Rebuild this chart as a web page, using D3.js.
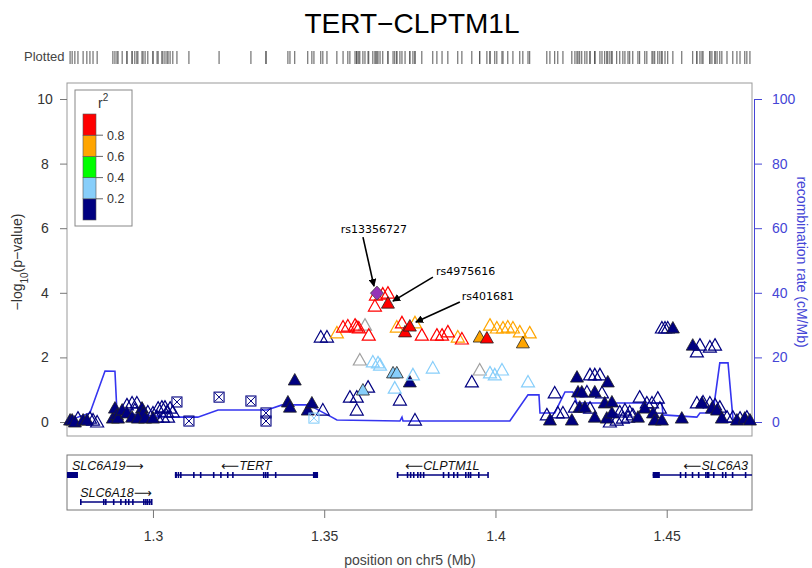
<!DOCTYPE html>
<html>
<head>
<meta charset="utf-8">
<script src="https://cdn.jsdelivr.net/npm/d3@7"></script>
<style>
body { margin: 0; background: #fff; }
svg text { font-family: "Liberation Sans", Arial, Helvetica, sans-serif; }
</style>
</head>
<body>
<div id="chart"></div>
<script>
// ---- data (positions in Mb on chr5) ----
var snpPos = [
  // left cluster
  1.2758,1.2764,1.2772,1.2781,1.2796,1.2807,1.2816,1.2825,1.2837,
  1.2883,1.2889,1.2895,1.2898,1.2910,1.2924,1.2924,1.2939,1.2953,1.2947,1.2968,1.2971,1.2939,1.2956,1.2977,
  1.2985,1.3000,1.3015,1.3026,1.3035,1.3041,1.3050,1.3058,1.3012,1.3029,1.3044,1.3000,
  // TERT region
  1.3070,1.3105,1.3193,1.3286,1.3330,1.3330,1.3394,1.3400,1.3414,1.3452,1.3464,1.3470,1.3496,
  // peak
  1.3490,1.3508,1.3537,1.3555,1.3569,1.3590,1.3595,1.3601,1.3619,1.3630,
  1.3651,1.3671,1.3686,1.3648,1.3686,1.3712,1.3727,1.3736,1.3750,1.3765,
  1.3785,1.3829,1.3844,1.3861,1.3890,1.3902,1.3954,1.3975,1.3984,1.4004,
  1.4022,1.4036,1.4051,1.4071,1.4100,1.4080,
  // lower middle
  1.3604,1.3642,1.3657,1.3663,1.3701,1.3712,1.3817,1.3750,1.3759,1.3706,
  1.3575,1.3595,1.3613,1.3628,1.3721,1.3595,1.3765,1.3954,1.3931,1.3984,
  1.3998,1.4019,1.4095,
  // right cluster
  1.4150,1.4159,1.4173,1.4182,1.4197,1.4223,1.4232,1.4238,1.4241,1.4246,
  1.4252,1.4261,1.4267,1.4276,1.4276,1.4290,1.4290,1.4290,1.4305,1.4311,
  1.4319,1.4325,1.4328,1.4334,1.4340,1.4340,1.4354,1.4363,1.4372,1.4378,
  1.4387,1.4392,1.4401,1.4416,1.4421,1.4436,1.4442,1.4457,1.4460,1.4465,
  1.4474,1.4480,1.4486,1.4486,1.4495,1.4503,1.4518,1.4544,1.4576,1.4588,
  1.4597,1.4626,1.4641,1.4588,1.4603,1.4606,1.4626,1.4632,1.4641,1.4647,
  1.4655,1.4661,1.4676,1.4693,1.4705,1.4714,1.4728,1.4734,1.4743,
  // lead SNP
  1.3654
];
var snpLogP = [
  0.06,0.06,0.00,0.12,0.06,0.06,0.12,0.06,0.00,
  0.12,0.43,0.22,0.12,0.37,0.28,0.53,0.59,0.59,0.37,0.43,0.28,0.15,0.12,0.12,
  0.31,0.28,0.43,0.46,0.46,0.31,0.43,0.31,0.15,0.15,0.15,0.12,
  0.62,0.03,0.77,0.65,0.28,0.03,0.62,0.46,1.30,0.37,0.59,0.12,0.37,
  2.63,2.63,2.76,2.94,2.97,3.00,2.94,2.91,3.00,2.69,
  3.93,3.96,3.99,3.59,3.68,2.94,3.07,2.79,2.97,3.07,
  2.69,2.69,2.69,2.79,2.63,2.57,2.63,2.60,3.00,2.91,
  2.91,2.94,2.91,2.79,2.76,2.45,
  1.92,1.86,1.83,1.76,1.52,1.52,1.67,1.24,1.46,1.05,
  0.77,0.77,0.99,1.08,0.68,0.37,0.06,1.61,1.24,1.52,
  1.46,1.61,1.24,
  0.22,0.06,0.90,0.28,0.28,0.06,0.46,1.39,0.93,0.46,
  0.93,0.46,0.93,1.46,0.43,1.46,0.93,0.15,1.46,0.90,
  0.59,0.12,1.24,0.00,0.62,0.28,0.06,0.31,0.12,0.37,
  0.15,0.31,0.22,0.15,0.77,0.43,0.59,0.59,0.28,0.06,
  0.74,0.43,0.06,2.91,2.91,2.91,2.91,0.12,2.38,2.17,
  2.38,2.32,2.38,0.59,0.59,0.62,0.59,0.43,0.53,0.37,
  0.46,0.12,0.15,0.15,0.06,0.12,0.12,0.15,0.06,
  3.99
];
var N = null;
var snpR2 = [
  .1,.1,.1,.1,.1,.1,.1,.1,.1,
  .1,.1,.1,.1,.1,.1,.1,.1,.1,.1,.1,.1,.1,.1,.1,
  .1,.1,.1,.1,.1,.1,.1,.1,.1,.1,.1,.1,
  .1,.1,.1,.1,.1,.1,.1,.1,.1,.1,.1,.3,.1,
  .1,.1,.7,.9,.9,.9,.9,.9,N,.9,
  .9,.9,.9,.9,.9,.7,.9,.9,.9,.7,
  .9,.9,.9,.9,.7,.9,.7,.9,.7,.7,
  .7,.7,.7,.7,.7,.7,
  N,.3,.3,.3,.3,.3,.3,.1,.3,.3,
  .1,.1,.3,.1,.1,.1,.1,N,.1,.3,
  .3,.3,.3,
  .1,.1,.1,.1,.1,.1,.1,.1,.1,.1,
  .1,.1,.1,.1,.1,.1,.1,.1,.1,.1,
  .1,.1,.1,.1,.1,.1,.1,.1,.1,.1,
  .1,.1,.1,.1,.1,.1,.1,.1,.1,.1,
  .1,.1,.1,.1,.1,.1,.1,.1,.1,.1,
  .1,.1,.1,.1,.1,.1,.1,.1,.1,.1,
  .1,.1,.1,.1,.1,.1,.1,.1,.1,
  1
];
// o = open triangle, f = filled triangle, x = boxed cross, d = index SNP
var snpMarker = [
  "f","f","f","o","f","f","o","o","o",
  "f","f","f","f","f","f","o","o","o","o","f","f","f","f","f",
  "o","o","o","o","o","o","o","o","o","o","o","f",
  "x","x","x","x","x","x","f","f","f","f","f","x","o",
  "o","o","o","o","o","o","o","o","o","o",
  "o","o","o","o","f","o","o","f","f","o",
  "o","o","o","o","o","o","f","f","o","o",
  "o","o","o","o","o","f",
  "o","o","o","o","f","f","o","f","o","o",
  "o","o","f","o","o","o","o","o","o","o",
  "o","o","o",
  "o","f","o","o","o","f","o","f","f","f",
  "f","f","o","o","o","o","f","f","o","o",
  "f","f","f","o","f","f","o","o","o","o",
  "o","o","o","f","o","f","o","o","f","f",
  "o","o","f","o","o","o","f","f","f","o",
  "o","o","o","o","f","o","o","f","o","f",
  "o","f","o","o","f","o","f","o","f",
  "d"
];

var recombPos = [1.2749,1.2816,1.2860,1.2889,1.2895,1.3050,1.3079,1.3131,1.3190,1.3333,
                 1.3377,1.3458,1.3467,1.3522,1.3537,1.3721,1.3727,1.3730,1.4042,1.4095,
                 1.4127,1.4130,1.4173,1.4203,1.4226,1.4238,1.4363,1.4486,1.4489,1.4588,
                 1.4597,1.4635,1.4655,1.4679,1.4694,1.4749];
var recombRate = [0.3,2.8,15.8,15.7,2.8,1.5,1.5,1.5,3.7,3.7,
                  5.3,5.3,4.6,1.5,0.6,0.3,1.5,0.3,0.3,8.4,
                  8.4,2.8,2.8,9.3,9.3,5.9,5.9,5.9,2.2,1.5,
                  2.8,2.8,18.3,18.3,0.3,0.3];

var geneNames  = ["SLC6A19", "TERT", "SLC6A18", "CLPTM1L", "SLC6A3"];
var geneStart  = [1.2540, 1.3064, 1.2787, 1.3712, 1.4459];
var geneEnd    = [1.2781, 1.3482, 1.2997, 1.3978, 1.4990];
var geneStrand = ["+", "-", "+", "-", "-"];
var geneRow    = [0, 0, 1, 0, 0];
var geneExons  = [
  [[1.2745, 1.2781]],
  [[1.3064,1.3070],[1.3072,1.3074],[1.3079,1.3081],[1.3117,1.3119],[1.3137,1.3139],[1.3175,1.3177],
   [1.3196,1.3198],[1.3216,1.3218],[1.3231,1.3233],[1.3321,1.3323],[1.3327,1.3329],[1.3333,1.3335],
   [1.3356,1.3358],[1.3467,1.3482]],
  [[1.2787,1.2789],[1.2854,1.2856],[1.2860,1.2862],[1.2883,1.2885],[1.2904,1.2906],[1.2918,1.2920],
   [1.2927,1.2929],[1.2939,1.2941],[1.2971,1.2973],[1.2977,1.2979],[1.2982,1.2984],[1.2988,1.2990],
   [1.2994,1.2997]],
  [[1.3712,1.3714],[1.3741,1.3743],[1.3750,1.3752],[1.3759,1.3761],[1.3771,1.3773],[1.3779,1.3781],
   [1.3788,1.3790],[1.3846,1.3848],[1.3861,1.3863],[1.3876,1.3878],[1.3887,1.3889],[1.3911,1.3913],
   [1.3919,1.3921],[1.3925,1.3927],[1.3949,1.3951],[1.3976,1.3978]],
  [[1.4459,1.4480],[1.4538,1.4540],[1.4553,1.4555],[1.4573,1.4575],[1.4591,1.4593],[1.4612,1.4614],
   [1.4617,1.4619],[1.4620,1.4622],[1.4635,1.4637],[1.4661,1.4663],[1.4670,1.4672],[1.4690,1.4692],
   [1.4728,1.4730],[1.4760,1.4762]]
];

var annotNames = ["rs13356727", "rs4975616", "rs401681"];
var annotPos   = [1.3654, 1.3686, 1.3750];
var annotLogP  = [3.99, 3.68, 2.97];

var xTicks = [1.3, 1.35, 1.4, 1.45];
var yTicks = [0, 2, 4, 6, 8, 10];
var recombTicks = [0, 20, 40, 60, 80, 100];
var r2Breaks = [0.2, 0.4, 0.6, 0.8];
var r2Colors = ["#000080", "#87CEFA", "#00FF00", "#FFA500", "#FF0000"];

function init() {
    var w = 812, h = 568;
    var left = 67, right = 752, top = 83, bottom = 436;
    var blue = "#4545d6";

    var xScale = d3.scaleLinear().domain([1.2749, 1.4749]).range([left, right]);
    var yScale = d3.scaleLinear().domain([0, 10]).range([422, 99]);
    var rScale = d3.scaleLinear().domain([0, 100]).range([422, 99]);
    var colorScale = d3.scaleThreshold().domain(r2Breaks).range(r2Colors);
    function snpColor(r) { return r == null ? "#A0A0A0" : colorScale(r); }

    var svg = d3.select("#chart").append("svg")
        .attr("width", w).attr("height", h);

    svg.append("defs").append("marker")
        .attr("id", "arrow").attr("viewBox", "0 0 10 10")
        .attr("refX", 9).attr("refY", 5)
        .attr("markerWidth", 5).attr("markerHeight", 5)
        .attr("orient", "auto")
        .append("path").attr("d", "M0,0L10,5L0,10Z").attr("fill", "#000");

    // title
    svg.append("text").attr("x", 412).attr("y", 33)
        .attr("text-anchor", "middle").style("font-size", "28px")
        .text("TERT\u2212CLPTM1L");

    // plotted track
    svg.append("text").attr("x", 24).attr("y", 61)
        .style("font-size", "13px").attr("fill", "#444").text("Plotted");
    svg.append("g").selectAll("line")
        .data(snpPos).enter().append("line")
        .attr("x1", function(d) { return xScale(d); })
        .attr("x2", function(d) { return xScale(d); })
        .attr("y1", 51).attr("y2", 64)
        .attr("stroke", "#555").attr("stroke-width", 1);

    // frame
    svg.append("rect").attr("x", left).attr("y", top)
        .attr("width", right - left).attr("height", bottom - top)
        .attr("fill", "none").attr("stroke", "#999");

    // left axis
    var yAxis = svg.append("g").attr("transform", "translate(" + left + ",0)")
        .call(d3.axisLeft(yScale).tickValues(yTicks).tickSize(7).tickSizeOuter(0));
    yAxis.select(".domain").remove();
    yAxis.selectAll("line").attr("stroke", "#777");
    yAxis.selectAll("text").attr("x", -22).attr("text-anchor", "middle")
        .style("font-size", "14px").attr("fill", "#333");

    var yl = svg.append("text").attr("transform", "translate(22,262) rotate(-90)")
        .attr("text-anchor", "middle").style("font-size", "14px").attr("fill", "#333");
    yl.append("tspan").text("\u2212log");
    yl.append("tspan").attr("baseline-shift", "sub").style("font-size", "10px").text("10");
    yl.append("tspan").text("(p\u2212value)");

    // right axis
    var rAxis = svg.append("g").attr("transform", "translate(754,0)")
        .call(d3.axisRight(rScale).tickValues(recombTicks).tickSize(8).tickSizeOuter(0).tickPadding(10));
    rAxis.select(".domain").attr("stroke", blue);
    rAxis.selectAll("line").attr("stroke", blue);
    rAxis.selectAll("text").attr("fill", blue).style("font-size", "14px");
    svg.append("text").attr("transform", "translate(797,262) rotate(90)")
        .attr("text-anchor", "middle").style("font-size", "14px").attr("fill", blue)
        .text("recombination rate (cM/Mb)");

    // recombination line
    var recomb = d3.range(recombPos.length).map(function(i) { return [recombPos[i], recombRate[i]]; });
    svg.append("path").datum(recomb)
        .attr("d", d3.line().x(function(d) { return xScale(d[0]); }).y(function(d) { return rScale(d[1]); }))
        .attr("fill", "none").attr("stroke", "#3535f0").attr("stroke-width", 1.6);

    // SNPs
    var snps = d3.range(snpPos.length).map(function(i) {
        return { pos: snpPos[i], logp: snpLogP[i], r2: snpR2[i], marker: snpMarker[i] };
    });
    snps.sort(function(a, b) {
        var ka = a.marker == "d" ? 9 : (a.r2 == null ? -1 : a.r2);
        var kb = b.marker == "d" ? 9 : (b.r2 == null ? -1 : b.r2);
        return ka - kb;
    });
    var tri = "M0,-6.5L6.5,5L-6.5,5Z";
    var pts = svg.append("g").selectAll("g").data(snps).enter().append("g")
        .attr("transform", function(d) { return "translate(" + xScale(d.pos) + "," + yScale(d.logp) + ")"; });
    pts.each(function(d) {
        var g = d3.select(this), c = snpColor(d.r2);
        if (d.marker == "o") {
            g.append("path").attr("d", tri).attr("fill", "none").attr("stroke", c).attr("stroke-width", 1.2);
        } else if (d.marker == "f") {
            g.append("path").attr("d", tri).attr("fill", c).attr("stroke", "#222").attr("stroke-width", 0.8);
        } else if (d.marker == "x") {
            g.append("rect").attr("x", -5).attr("y", -5).attr("width", 10).attr("height", 10)
                .attr("fill", "none").attr("stroke", c).attr("stroke-width", 1.1);
            g.append("path").attr("d", "M-4,-4L4,4M4,-4L-4,4")
                .attr("stroke", c).attr("stroke-width", 1);
        } else {
            g.append("path").attr("d", "M0,-7L6.5,0L0,7L-6.5,0Z")
                .attr("fill", "#9632B8").attr("stroke", "#444").attr("stroke-width", 0.8);
        }
    });

    // annotations
    var labOff = [[-3, -60], [48, -28], [52, -26]];
    var arrFrom = [[-14, -56], [45, -26], [50, -24]];
    var arrTo = [[-3, -7], [5, -2], [6, -4]];
    annotNames.forEach(function(name, i) {
        var px = xScale(annotPos[i]), py = yScale(annotLogP[i]);
        svg.append("text").attr("x", px + labOff[i][0]).attr("y", py + labOff[i][1])
            .attr("text-anchor", i == 0 ? "middle" : "start")
            .style("font-family", "'DejaVu Sans', sans-serif").style("font-size", "11px")
            .text(name);
        svg.append("line")
            .attr("x1", px + arrFrom[i][0]).attr("y1", py + arrFrom[i][1])
            .attr("x2", px + arrTo[i][0]).attr("y2", py + arrTo[i][1])
            .attr("stroke", "#000").attr("stroke-width", 1.6)
            .attr("marker-end", "url(#arrow)");
    });

    // legend
    var lg = svg.append("g");
    lg.append("rect").attr("x", 75).attr("y", 90).attr("width", 57).attr("height", 136)
        .attr("fill", "#fff").attr("stroke", "#888");
    var lScale = d3.scaleLinear().domain([0, 1]).range([220, 114]);
    var bands = [0].concat(r2Breaks).map(function(b, i, arr) {
        return [b, i < arr.length - 1 ? arr[i + 1] : 1];
    });
    lg.selectAll(".band").data(bands).enter().append("rect")
        .attr("x", 83).attr("width", 13)
        .attr("y", function(d) { return lScale(d[1]); })
        .attr("height", function(d) { return lScale(d[0]) - lScale(d[1]); })
        .attr("fill", function(d) { return colorScale(d[0]); })
        .attr("stroke", "#555").attr("stroke-width", 0.6);
    lg.selectAll(".tk").data(r2Breaks).enter().append("line")
        .attr("x1", 96).attr("x2", 103)
        .attr("y1", function(d) { return lScale(d); }).attr("y2", function(d) { return lScale(d); })
        .attr("stroke", "#666");
    lg.selectAll(".lb").data(r2Breaks).enter().append("text")
        .attr("x", 107).attr("y", function(d) { return lScale(d) + 4.5; })
        .style("font-size", "12.5px").attr("fill", "#333")
        .text(function(d) { return d.toFixed(1); });
    var rt = lg.append("text").attr("x", 98).attr("y", 108).style("font-size", "14px").attr("fill", "#333");
    rt.append("tspan").text("r");
    rt.append("tspan").attr("dy", -7).style("font-size", "10px").text("2");

    // gene panel
    var gTop = 455, gBot = 510;
    svg.append("clipPath").attr("id", "gclip").append("rect")
        .attr("x", left).attr("y", gTop).attr("width", right - left).attr("height", gBot - gTop);
    svg.append("rect").attr("x", left).attr("y", gTop)
        .attr("width", right - left).attr("height", gBot - gTop)
        .attr("fill", "none").attr("stroke", "#777");
    var rowY = [475, 502];
    var gg = svg.append("g").attr("clip-path", "url(#gclip)");
    geneNames.forEach(function(name, i) {
        var y = rowY[geneRow[i]];
        gg.append("line").attr("x1", xScale(geneStart[i])).attr("x2", xScale(geneEnd[i]))
            .attr("y1", y).attr("y2", y).attr("stroke", "#000080").attr("stroke-width", 1.5);
        gg.selectAll(null).data(geneExons[i]).enter().append("rect")
            .attr("x", function(d) { return xScale(d[0]); })
            .attr("width", function(d) { return Math.max(1.6, xScale(d[1]) - xScale(d[0])); })
            .attr("y", y - 3).attr("height", 6).attr("fill", "#000080");
        var t = svg.append("text").attr("y", y - 5)
            .style("font-size", "12.5px").style("font-style", "italic").attr("fill", "#111");
        var arrowSpan = { style: "normal" };
        if (geneStrand[i] == "+") {
            t.append("tspan").text(name);
            t.append("tspan").style("font-style", "normal").style("font-family", "'DejaVu Sans'").text("\u27F6");
        } else {
            t.append("tspan").style("font-style", "normal").style("font-family", "'DejaVu Sans'").text("\u27F5");
            t.append("tspan").text(name);
        }
        var tw = t.node().getComputedTextLength();
        var cx = xScale((geneStart[i] + geneEnd[i]) / 2);
        cx = Math.max(left + 5 + tw / 2, Math.min(right - 4 - tw / 2, cx));
        t.attr("x", cx - tw / 2);
    });

    // x axis
    var xAxis = svg.append("g").attr("transform", "translate(0," + gBot + ")")
        .call(d3.axisBottom(xScale).tickValues(xTicks).tickSize(8).tickPadding(13)
            .tickFormat(function(d) { return String(d); }));
    xAxis.select(".domain").remove();
    xAxis.selectAll("line").attr("stroke", "#777");
    xAxis.selectAll("text").style("font-size", "14px").attr("fill", "#333");
    svg.append("text").attr("x", 410).attr("y", 565).attr("text-anchor", "middle")
        .style("font-size", "14px").attr("fill", "#444").text("position on chr5 (Mb)");
}

window.onload = init;
</script>
</body>
</html>
